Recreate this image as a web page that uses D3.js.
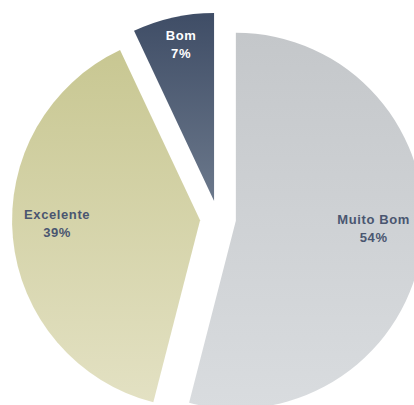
<!DOCTYPE html>
<html>
<head>
<meta charset="utf-8">
<script src="https://cdn.jsdelivr.net/npm/d3@7"></script>
<style>
  html, body { margin: 0; padding: 0; background: #fff; overflow: hidden; }
  text { font-family: "Liberation Sans", Arial, sans-serif; font-weight: bold; font-size: 13px; letter-spacing: 0.6px; }
</style>
</head>
<body>
<div id="chart"></div>
<script>

// data
var categories = ["Muito Bom", "Excelente", "Bom"];
var shares = [54, 39, 7];
var pctLabels = ["54%", "39%", "7%"];

var width = 414;
var height = 405;

var center = { x: 218, y: 218.5 };
var radius = 188;
var explode = 18;

// gradient top / bottom colours, one pair per slice
var gradTop = ["#c4c7ca", "#c8c792", "#3f4d66"];
var gradBottom = ["#d9dcdf", "#e3e1c3", "#6b788b"];
var labelColor = ["#4a5670", "#4a5670", "#ffffff"];
// label distance from the slice tip and small angle tweak (degrees)
var labelDist = [138, 143, 160];
var labelNudge = [-4, 4.3, 0.7];

var svg = d3.select("#chart")
  .append("svg")
    .attr("width", width)
    .attr("height", height);

var defs = svg.append("defs");

categories.forEach(function (c, i) {
  var g = defs.append("linearGradient")
    .attr("id", "grad" + i)
    .attr("x1", 0).attr("y1", 0)
    .attr("x2", 0).attr("y2", 1);
  g.append("stop").attr("offset", "0%").attr("stop-color", gradTop[i]);
  g.append("stop").attr("offset", "100%").attr("stop-color", gradBottom[i]);
});

var pie = d3.pie()
  .sort(null)
  .value(function (d) { return d; });

var arc = d3.arc()
  .innerRadius(0)
  .outerRadius(radius);

var slices = pie(shares);

var g = svg.append("g")
  .attr("transform", "translate(" + center.x + "," + center.y + ")");

function tip(d) {
  var mid = (d.startAngle + d.endAngle) / 2;
  return [Math.sin(mid) * explode, -Math.cos(mid) * explode];
}

var slice = g.selectAll(".slice")
  .data(slices)
  .enter()
  .append("g")
    .attr("class", "slice")
    .attr("transform", function (d) {
      var t = tip(d);
      return "translate(" + t[0] + "," + t[1] + ")";
    });

slice.append("path")
  .attr("d", arc)
  .attr("fill", function (d, i) { return "url(#grad" + i + ")"; });

var label = slice.append("text")
  .attr("text-anchor", "middle")
  .attr("fill", function (d, i) { return labelColor[i]; })
  .attr("transform", function (d, i) {
    var a = (d.startAngle + d.endAngle) / 2 + labelNudge[i] * Math.PI / 180;
    return "translate(" + (Math.sin(a) * labelDist[i]) + "," + (-Math.cos(a) * labelDist[i]) + ")";
  });

label.append("tspan")
  .attr("x", 0)
  .attr("y", -4)
  .text(function (d, i) { return categories[i]; });

label.append("tspan")
  .attr("x", 0)
  .attr("y", 14)
  .text(function (d, i) { return pctLabels[i]; });

</script>
</body>
</html>
